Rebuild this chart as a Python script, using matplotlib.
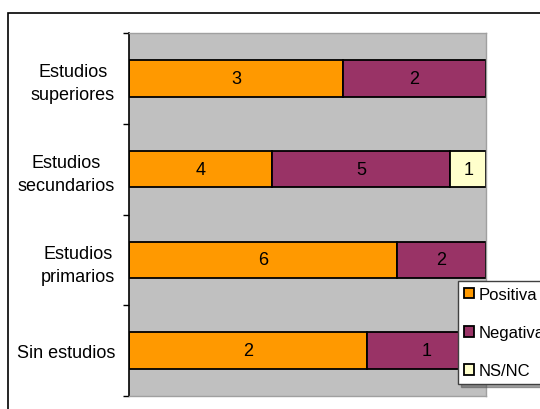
import numpy as np
import matplotlib
matplotlib.use("Agg")
import matplotlib.pyplot as plt
from matplotlib.patches import Rectangle
from matplotlib import font_manager

# data (bottom to top, as drawn)
categorias = ["Sin estudios", "Estudios\nprimarios", "Estudios\nsecundarios", "Estudios\nsuperiores"]
positiva = [2, 6, 4, 3]
negativa = [1, 2, 5, 2]
nsnc = [0, 0, 1, 0]
series = ["Positiva", "Negativa", "NS/NC"]
colores = ["#FF9900", "#993366", "#FFFFCC"]

names = {f.name for f in font_manager.fontManager.ttflist}
fam = "Liberation Sans Narrow" if "Liberation Sans Narrow" in names else "Liberation Sans"
plt.rcParams["font.family"] = [fam, "DejaVu Sans"]
fs = 13

fig = plt.figure(figsize=(5.4, 4.1), dpi=100)
ax = fig.add_axes([129 / 540, 1 - 397 / 410, 357 / 540, 363 / 410])
ax.set_facecolor("#C0C0C0")

datos = np.array([positiva, negativa, nsnc], dtype=float)
totales = datos.sum(axis=0)
frac = datos / totales
y = np.arange(len(categorias))
izq = np.zeros(len(categorias))
for i in range(3):
    ax.barh(y, frac[i], left=izq, height=0.4, color=colores[i],
            edgecolor="black", linewidth=1.3, label=series[i])
    for j in range(len(categorias)):
        if datos[i, j] > 0:
            ax.text(izq[j] + frac[i, j] / 2, y[j], "%d" % datos[i, j],
                    ha="center", va="center", fontsize=fs)
    izq += frac[i]

ax.set_xlim(0, 1)
ax.set_ylim(-0.5, len(categorias) - 0.5)
ax.set_xticks([])
ax.set_yticks(np.arange(-0.5, len(categorias), 1.0))
ax.set_yticklabels([])
ax.set_yticks(y, minor=True)
ax.set_yticklabels(categorias, minor=True, fontsize=fs,
                   multialignment="center", linespacing=1.45)
ax.tick_params(axis="y", which="minor", length=0, pad=10)
ax.tick_params(axis="y", which="major", length=4, width=1, color="black")
for s in ["top", "right", "bottom"]:
    ax.spines[s].set_color("#A0A0A0")
    ax.spines[s].set_linewidth(1)
ax.spines["left"].set_color("black")
ax.spines["left"].set_linewidth(1.2)

# leyenda cortada por el borde derecho, como en el original
leg = fig.legend(loc="upper left", bbox_to_anchor=(458 / 540, 1 - 282 / 410),
                 frameon=True, fancybox=False, shadow=True, fontsize=12,
                 handlelength=0.6, handleheight=0.6, handletextpad=0.3,
                 labelspacing=1.4, borderpad=0.35, borderaxespad=0)
leg.get_frame().set_edgecolor("#404040")
leg.get_frame().set_linewidth(1)
for h in leg.legend_handles:
    h.set_edgecolor("black")
    h.set_linewidth(1.3)

# marco exterior del grafico
fig.patches.append(Rectangle((8 / 540, -0.1), 1.2, 1.1 - 14 / 410,
                             transform=fig.transFigure, fill=False,
                             edgecolor="black", linewidth=1.2))

fig.savefig("out.png", dpi=100)
